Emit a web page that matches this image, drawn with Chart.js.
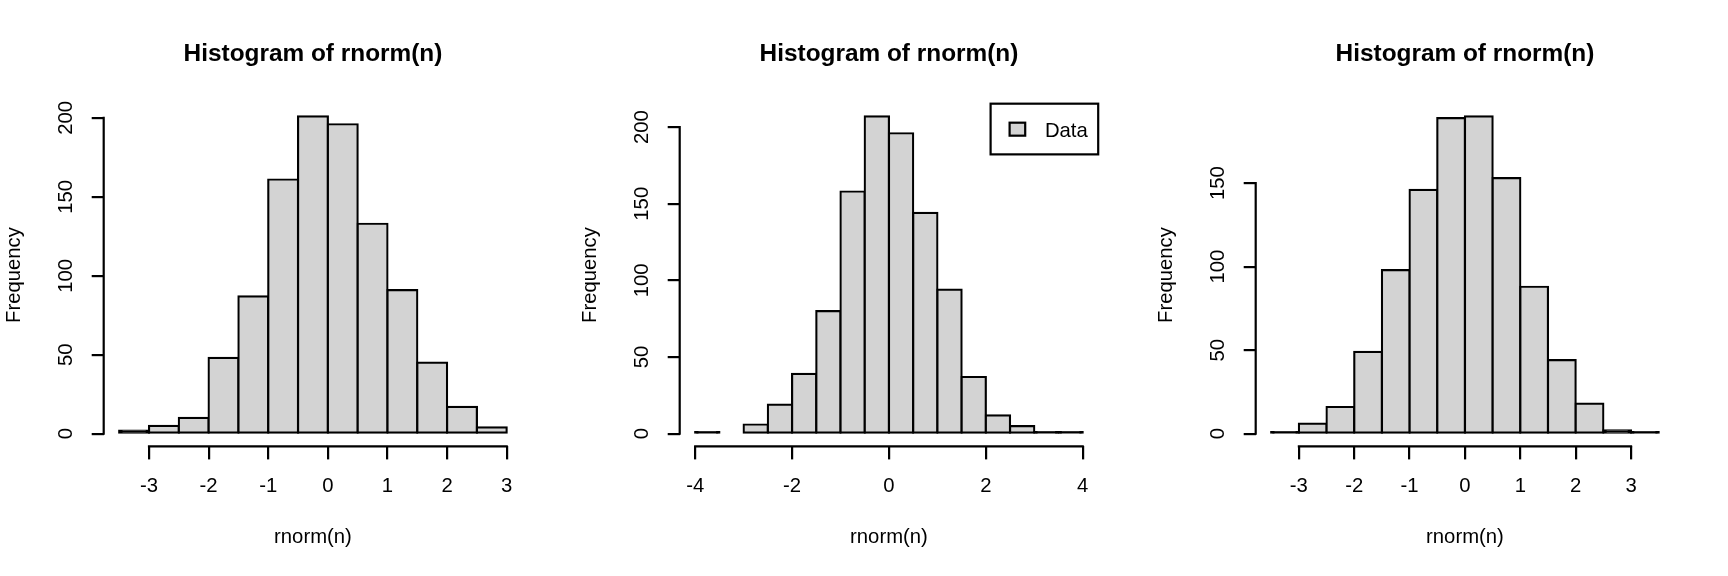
<!DOCTYPE html>
<html>
<head>
<meta charset="utf-8">
<script src="https://cdn.jsdelivr.net/npm/chart.js@4.4.1/dist/chart.umd.min.js"></script>
<style>
html, body { margin: 0; padding: 0; background: #ffffff; }
#wrap { position: relative; width: 1728px; height: 576px; overflow: hidden; background: #ffffff; }
.panel { position: absolute; top: 0; width: 576px; height: 576px; }
canvas { display: block; }
</style>
</head>
<body>
<div id="wrap">
  <div class="panel" style="left:0px"><canvas id="c1" width="576" height="576"></canvas></div>
  <div class="panel" style="left:576px"><canvas id="c2" width="576" height="576"></canvas></div>
  <div class="panel" style="left:1152px"><canvas id="c3" width="576" height="576"></canvas></div>
</div>
<script>
// ---- text ----
const titleText = 'Histogram of rnorm(n)';
const xLabel = 'rnorm(n)';
const yLabel = 'Frequency';
const seriesLabel = 'Data';

// ---- panel 1 ----
const p1Breaks = [-3.5, -3, -2.5, -2, -1.5, -1, -0.5, 0, 0.5, 1, 1.5, 2, 2.5, 3];
const p1Counts = [2, 5, 10, 48, 87, 161, 201, 196, 133, 91, 45, 17, 4];
const p1XTicks = [-3, -2, -1, 0, 1, 2, 3];
const p1YTicks = [0, 50, 100, 150, 200];

// ---- panel 2 ----
const p2Breaks = [-4, -3.5, -3, -2.5, -2, -1.5, -1, -0.5, 0, 0.5, 1, 1.5, 2, 2.5, 3, 3.5, 4];
const p2Counts = [1, 0, 6, 19, 39, 80, 158, 207, 196, 144, 94, 37, 12, 5, 1, 1];
const p2XTicks = [-4, -2, 0, 2, 4];
const p2YTicks = [0, 50, 100, 150, 200];

// ---- panel 3 ----
const p3Breaks = [-3.5, -3, -2.5, -2, -1.5, -1, -0.5, 0, 0.5, 1, 1.5, 2, 2.5, 3, 3.5];
const p3Counts = [1, 6, 16, 49, 98, 146, 189, 190, 153, 88, 44, 18, 2, 1];
const p3XTicks = [-3, -2, -1, 0, 1, 2, 3];
const p3YTicks = [0, 50, 100, 150];

// ---- style ----
const FILL = '#D3D3D3';
const INK = '#000000';
const LW = 2.2;
const FONT_FAMILY = "'Liberation Sans', Arial, sans-serif";
const LABEL_SIZE = 20.3;
const TITLE_SIZE = 24.4;

Chart.defaults.font.family = FONT_FAMILY;
Chart.defaults.font.size = LABEL_SIZE;
Chart.defaults.color = INK;

function centers(breaks) {
  return breaks.slice(0, -1).map((b, i) => (b + breaks[i + 1]) / 2);
}
function usr(lo, hi) {
  const d = (hi - lo) * 0.04;
  return [lo - d, hi + d];
}

// bars thinner than two outlines render as solid outline colour (as R does)
function barFill(ctx) {
  const chart = ctx.chart;
  const y = chart.scales && chart.scales.y;
  if (!ctx.raw || !y) return FILL;
  const h = Math.abs(y.getPixelForValue(0) - y.getPixelForValue(ctx.raw.y));
  return h < 2 * LW ? INK : FILL;
}

function axesPlugin(xTicks, yTicks) {
  return {
    id: 'rAxes',
    afterDraw(chart) {
      const { ctx, chartArea } = chart;
      const x = chart.scales.x, y = chart.scales.y;
      ctx.save();
      ctx.strokeStyle = INK;
      ctx.lineWidth = LW;
      ctx.lineCap = 'square';
      ctx.beginPath();
      ctx.moveTo(x.getPixelForValue(xTicks[0]), chartArea.bottom);
      ctx.lineTo(x.getPixelForValue(xTicks[xTicks.length - 1]), chartArea.bottom);
      ctx.moveTo(chartArea.left, y.getPixelForValue(yTicks[0]));
      ctx.lineTo(chartArea.left, y.getPixelForValue(yTicks[yTicks.length - 1]));
      ctx.stroke();
      ctx.restore();
    }
  };
}

const boxLegendPlugin = {
  id: 'boxLegend',
  afterDraw(chart) {
    const { ctx, chartArea } = chart;
    const ds = chart.data.datasets[0];
    const w = 107.6, h = 50.7;
    const x0 = chartArea.right - w, y0 = chartArea.top;
    ctx.save();
    ctx.fillStyle = '#ffffff';
    ctx.fillRect(x0, y0, w, h);
    ctx.strokeStyle = INK;
    ctx.lineWidth = LW;
    ctx.strokeRect(x0, y0, w, h);
    ctx.fillStyle = FILL;
    ctx.fillRect(x0 + 19, y0 + 19, 15.6, 13);
    ctx.strokeStyle = ds.borderColor;
    ctx.strokeRect(x0 + 19, y0 + 19, 15.6, 13);
    ctx.fillStyle = INK;
    ctx.font = LABEL_SIZE + 'px ' + FONT_FAMILY;
    ctx.textAlign = 'left';
    ctx.textBaseline = 'middle';
    ctx.fillText(ds.label, x0 + 54.3, y0 + 27.5);
    ctx.restore();
  }
};

function makeChart(id, breaks, counts, xTicks, yTicks, withLegend) {
  const mids = centers(breaks);
  const points = mids.map((m, i) => ({ x: m, y: counts[i] }));
  const [xmin, xmax] = usr(breaks[0], breaks[breaks.length - 1]);
  const [ymin, ymax] = usr(0, Math.max(...counts));
  const plugins = [axesPlugin(xTicks, yTicks)];
  if (withLegend) plugins.push(boxLegendPlugin);
  return new Chart(document.getElementById(id), {
    type: 'bar',
    data: {
      datasets: [{
        label: seriesLabel,
        data: points,
        backgroundColor: barFill,
        borderColor: INK,
        borderWidth: LW,
        borderSkipped: false,
        inflateAmount: LW / 2,
        barPercentage: 1,
        categoryPercentage: 1,
        grouped: false
      }]
    },
    options: {
      responsive: false,
      animation: false,
      devicePixelRatio: 1,
      events: [],
      layout: { padding: { left: 0, right: 53.8, top: 0, bottom: 0 } },
      plugins: {
        legend: { display: false },
        tooltip: { enabled: false },
        title: {
          display: true,
          text: titleText,
          fullSize: false,
          color: INK,
          font: { size: TITLE_SIZE, weight: 'bold' },
          padding: { top: 39.4, bottom: 35.0 }
        }
      },
      scales: {
        x: {
          type: 'linear',
          min: xmin,
          max: xmax,
          offset: false,
          grid: {
            offset: false,
            drawOnChartArea: false,
            drawTicks: true,
            tickLength: 13,
            tickWidth: LW,
            tickColor: INK,
            color: INK,
            lineWidth: LW
          },
          border: { display: false },
          ticks: {
            autoSkip: false,
            minRotation: 0,
            maxRotation: 0,
            padding: 15.1,
            color: INK,
            font: { size: LABEL_SIZE },
            callback: (v) => String(v)
          },
          afterBuildTicks: (s) => { s.ticks = xTicks.map(v => ({ value: v })); },
          afterFit: (s) => { s.height = 129.6; },
          title: {
            display: true,
            text: xLabel,
            color: INK,
            font: { size: LABEL_SIZE },
            padding: { top: 0, bottom: 26.8 }
          }
        },
        y: {
          type: 'linear',
          min: ymin,
          max: ymax,
          grid: {
            drawOnChartArea: false,
            drawTicks: true,
            tickLength: 12,
            tickWidth: LW,
            tickColor: INK,
            color: INK,
            lineWidth: LW
          },
          border: { display: false },
          ticks: {
            autoSkip: false,
            minRotation: 90,
            maxRotation: 90,
            crossAlign: 'center',
            padding: 8.5,
            color: INK,
            font: { size: LABEL_SIZE },
            callback: (v) => String(v)
          },
          afterBuildTicks: (s) => { s.ticks = yTicks.map(v => ({ value: v })); },
          afterFit: (s) => { s.width = 103.7; },
          title: {
            display: true,
            text: yLabel,
            color: INK,
            font: { size: LABEL_SIZE },
            padding: { top: 2.3, bottom: 0 }
          }
        }
      }
    },
    plugins: plugins
  });
}

makeChart('c1', p1Breaks, p1Counts, p1XTicks, p1YTicks, false);
makeChart('c2', p2Breaks, p2Counts, p2XTicks, p2YTicks, true);
makeChart('c3', p3Breaks, p3Counts, p3XTicks, p3YTicks, false);
</script>
</body>
</html>
